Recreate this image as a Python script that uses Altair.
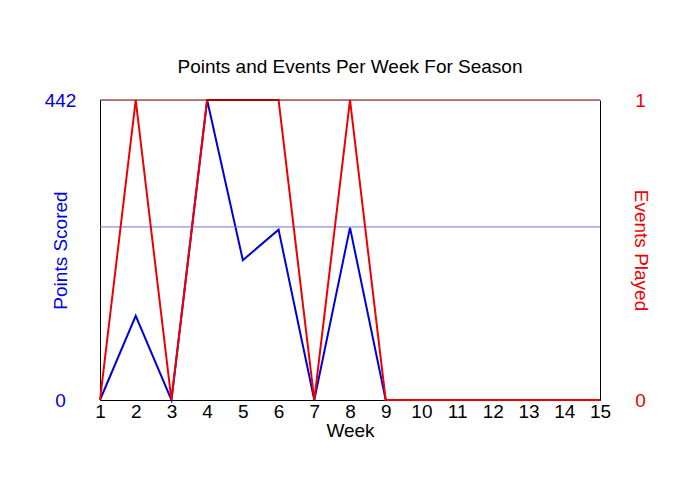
import altair as alt
import pandas as pd

weeks = list(range(1, 16))
points = [0, 124, 0, 442, 206, 251, 0, 254, 0, 0, 0, 0, 0, 0, 0]
events = [0, 1, 0, 1, 1, 1, 0, 1, 0, 0, 0, 0, 0, 0, 0]
avg_points = [255]

df = pd.DataFrame({"week": weeks, "points": points, "events": events})
avg_df = pd.DataFrame({"avg": avg_points})

FONT = "Liberation Sans"
BLUE = "#0000dd"
RED = "#ee0000"
FS = 19

x_enc = alt.X(
    "week:Q",
    scale=alt.Scale(domain=[1, 15], nice=False, zero=False),
    axis=alt.Axis(
        values=weeks, format="d", title="Week", ticks=False, domain=True, domainColor="black",
        domainWidth=1, grid=False, labelOverlap=False, labelFlush=False,
        labelFontSize=FS, labelColor="black", labelPadding=2, labelFont=FONT,
        titleFontSize=FS, titleFontWeight="normal", titleColor="black", titlePadding=0,
        titleFont=FONT,
    ),
)

left_scale = alt.Scale(domain=[0, 442], nice=False, zero=True)

blue_line = alt.Chart(df).mark_line(color=BLUE, strokeWidth=2).encode(
    x=x_enc,
    y=alt.Y(
        "points:Q",
        scale=left_scale,
        axis=alt.Axis(
            values=[0, 442], title="Points Scored", ticks=False, domain=True,
            domainColor="black", domainWidth=1, grid=False,
            labelFontSize=FS, labelColor=BLUE, labelAlign="center", labelBaseline="middle",
            labelPadding=40, labelFont=FONT,
            titleFontSize=FS, titleFontWeight="normal", titleColor=BLUE, titleFont=FONT,
            titleAngle=-90, titleX=-40, titleY=150, titleAlign="center", titleBaseline="middle",
        ),
    ),
)

avg_rule = alt.Chart(avg_df).mark_rule(color="#7070d8", strokeWidth=1).encode(
    y=alt.Y("avg:Q", scale=left_scale)
)

left = alt.layer(blue_line, avg_rule)

red_line = alt.Chart(df).mark_line(color=RED, strokeWidth=2).encode(
    x=x_enc,
    y=alt.Y(
        "events:Q",
        scale=alt.Scale(domain=[0, 1], nice=False),
        axis=alt.Axis(
            orient="right", values=[0, 1], format="d", title="Events Played", ticks=False,
            domain=True, domainColor="black", domainWidth=1, grid=False,
            labelFontSize=FS, labelColor=RED, labelAlign="center", labelBaseline="middle",
            labelPadding=40, labelFont=FONT,
            titleFontSize=FS, titleFontWeight="normal", titleColor=RED, titleFont=FONT,
            titleAngle=90, titleX=40, titleY=150, titleAlign="center", titleBaseline="middle",
        ),
    ),
)

top_border = alt.Chart(avg_df).mark_rule(color="#7a0000", strokeWidth=1).encode(
    x=alt.value(0), x2=alt.value(500), y=alt.value(0)
)

chart = (
    alt.layer(left, red_line, top_border)
    .resolve_scale(y="independent")
    .properties(
        width=500,
        height=300,
        title=alt.TitleParams(
            "Points and Events Per Week For Season",
            fontSize=FS, fontWeight="normal", font=FONT, color="black", offset=14,
        ),
        autosize=alt.AutoSizeParams(type="none"),
        padding={"left": 92, "top": 92, "right": 92, "bottom": 92},
    )
    .configure_view(stroke=None)
    .configure(background="white")
)

chart.save("out.html", embed_options={"renderer": "svg", "actions": False})
